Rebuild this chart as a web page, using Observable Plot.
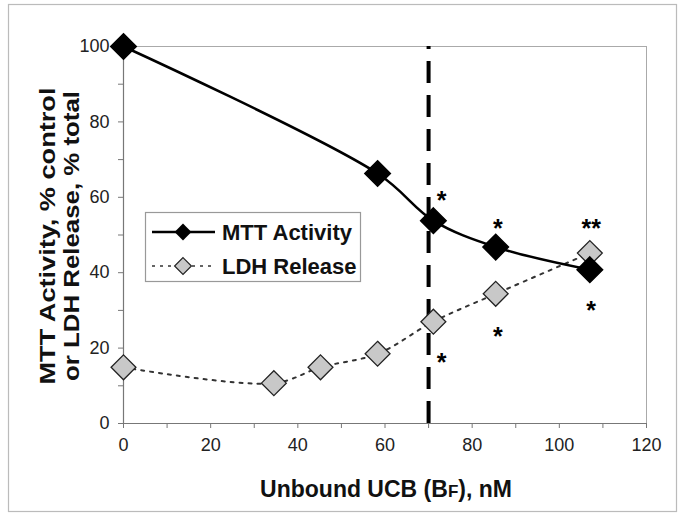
<!DOCTYPE html>
<html>
<head>
<meta charset="utf-8">
<script src="https://cdn.jsdelivr.net/npm/d3@7"></script>
<script src="https://cdn.jsdelivr.net/npm/@observablehq/plot@0.6"></script>
<style>
  html, body { margin: 0; padding: 0; background: #fff; }
  #chart { width: 685px; height: 519px; }
</style>
</head>
<body>
<div id="chart"></div>
<script>
// ---- data ----
const mttX = [0, 58.3, 71.1, 85.4, 107];
const mttY = [100, 66.3, 53.8, 46.8, 40.8];
const ldhX = [0, 34.5, 45.2, 58.3, 71.1, 85.4, 107];
const ldhY = [14.9, 10.7, 14.9, 18.5, 27, 34.4, 45.2];
const thresholdX = [70];
const starX = [73, 85.9, 107.3, 107.3, 85.9, 73];
const starY = [61, 53.4, 53.4, 31.7, 24.8, 18];
const starText = ["*", "*", "**", "*", "*", "*"];
const xTicks = [0, 10, 20, 30, 40, 50, 60, 70, 80, 90, 100, 110, 120];
const yTicks = [0, 10, 20, 30, 40, 50, 60, 70, 80, 90, 100];
const seriesNames = ["MTT Activity", "LDH Release"];

const mtt = mttX.map((x, i) => ({x, y: mttY[i]}));
const ldh = ldhX.map((x, i) => ({x, y: ldhY[i]}));
const stars = starX.map((x, i) => ({x, y: starY[i], t: starText[i]}));

const tickFont = "'Liberation Sans Narrow', 'Arial Narrow', 'Liberation Sans', Arial, sans-serif";
const boldFont = "'Liberation Sans', Arial, sans-serif";

const chart = Plot.plot({
  width: 685,
  height: 519,
  marginLeft: 123,
  marginRight: 39,
  marginTop: 46,
  marginBottom: 96,
  style: {background: "#fff", fontFamily: tickFont, color: "#222", overflow: "visible"},
  x: {domain: [0, 120], label: null},
  y: {domain: [0, 100], label: null},
  marks: [
    Plot.frame({stroke: "#aaa", strokeWidth: 1}),
    Plot.axisX({ticks: xTicks, tickFormat: d => d % 20 === 0 ? d : "", tickSize: 5, tickPadding: 10,
                fontSize: 18, stroke: "#777", fill: "#222", label: null}),
    Plot.axisY({ticks: yTicks, tickFormat: d => d % 20 === 0 ? d : "", tickSize: 5, tickPadding: 9,
                fontSize: 18, stroke: "#777", fill: "#222", label: null}),
    Plot.ruleX([0], {stroke: "#777", strokeWidth: 1.2}),
    Plot.ruleY([0], {stroke: "#777", strokeWidth: 1.2}),
    Plot.ruleX(thresholdX, {x: d => d, y1: 0, y2: 100, stroke: "#000", strokeWidth: 4, strokeDasharray: "22,12"}),
    Plot.line(ldh, {x: "x", y: "y", stroke: "#333", strokeWidth: 2, strokeDasharray: "3,6", curve: "catmull-rom"}),
    Plot.line(mtt, {x: "x", y: "y", stroke: "#000", strokeWidth: 2.5, curve: "catmull-rom"}),
    Plot.dot(ldh, {x: "x", y: "y", symbol: "diamond2", r: 11.2, fill: "#c8c8c8", stroke: "#222", strokeWidth: 1.3}),
    Plot.dot(mtt, {x: "x", y: "y", symbol: "diamond2", r: 11.5, fill: "#000", stroke: "#000"}),
    Plot.text(stars, {x: "x", y: "y", text: "t", fontSize: 25, fontWeight: "bold", fill: "#000", dy: 7, fontFamily: boldFont})
  ]
});

const svg = d3.select(chart);

// outer border
svg.insert("rect", ":first-child")
  .attr("x", 8.5).attr("y", 4.5).attr("width", 668).attr("height", 507)
  .attr("fill", "none").attr("stroke", "#bbb").attr("stroke-width", 1.2);

// y axis title (two lines)
const yLab = ["MTT Activity, % control", "or LDH Release, % total"];
const yLabX = [55, 79];
const yLabLen = [297, 290];
yLab.forEach((t, i) => {
  svg.append("text")
    .attr("transform", `translate(${yLabX[i]},236) rotate(-90)`)
    .attr("text-anchor", "middle")
    .attr("font-family", boldFont).attr("font-weight", "bold").attr("font-size", 21.5)
    .attr("textLength", yLabLen[i]).attr("lengthAdjust", "spacingAndGlyphs")
    .attr("fill", "#111")
    .text(t);
});

// x axis title with small "F"
const xt = svg.append("text")
  .attr("x", 386).attr("y", 497)
  .attr("text-anchor", "middle")
  .attr("font-family", boldFont).attr("font-weight", "bold").attr("font-size", 23)
  .attr("fill", "#111");
xt.append("tspan").text("Unbound UCB (B");
xt.append("tspan").attr("font-size", 17).text("F");
xt.append("tspan").text("), nM");

// legend
const lg = svg.append("g").attr("text-anchor", "start");
lg.append("rect").attr("x", 145.5).attr("y", 212.5).attr("width", 215).attr("height", 69)
  .attr("fill", "#fff").attr("stroke", "#999").attr("stroke-width", 1.2);
const rowsY = [232, 266];
const diamond = d3.symbol(d3.symbolDiamond2, 180);
// MTT row
lg.append("line").attr("x1", 152).attr("x2", 215).attr("y1", rowsY[0]).attr("y2", rowsY[0])
  .attr("stroke", "#000").attr("stroke-width", 2.5);
lg.append("path").attr("d", diamond()).attr("transform", `translate(183,${rowsY[0]})`).attr("fill", "#000");
// LDH row
lg.append("line").attr("x1", 152).attr("x2", 215).attr("y1", rowsY[1]).attr("y2", rowsY[1])
  .attr("stroke", "#333").attr("stroke-width", 1.5).attr("stroke-dasharray", "3,5");
lg.append("path").attr("d", diamond()).attr("transform", `translate(183,${rowsY[1]})`)
  .attr("fill", "#c8c8c8").attr("stroke", "#222").attr("stroke-width", 1.2);
seriesNames.forEach((t, i) => {
  lg.append("text").attr("x", 222).attr("y", rowsY[i] + 8)
    .attr("text-anchor", "start")
    .attr("font-family", boldFont).attr("font-weight", "bold").attr("font-size", 22)
    .attr("fill", "#111").text(t);
});

document.getElementById("chart").appendChild(chart);
</script>
</body>
</html>
